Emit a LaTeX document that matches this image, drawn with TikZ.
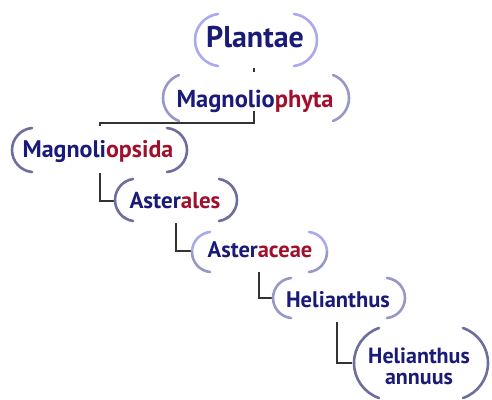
\documentclass[tikz,border=0pt]{standalone}
\usepackage{fontspec}
\setmainfont{PT Sans}
\usetikzlibrary{calc}
\definecolor{navy}{HTML}{1A1A78}
\definecolor{wine}{HTML}{A0102C}
\definecolor{connc}{HTML}{333333}
\definecolor{arcL}{HTML}{AAAAEE}
\definecolor{arcM}{HTML}{9898C8}
\definecolor{arcD}{HTML}{6E6E9C}
\newcommand\brk[7]{%
  \pgfmathsetmacro\rr{(#4*#4+#5*#5)/(2*#5)}%
  \pgfmathsetmacro\aa{atan2(#4,\rr-#5)}%
  \draw[arcline,#6] (#1-#3,#2) arc[start angle=180,end angle=180+\aa,radius=\rr];
  \draw[arcline,#7] (#1-#3,#2) arc[start angle=180,end angle=180-\aa,radius=\rr];
  \draw[arcline,#6] (#1+#3,#2) arc[start angle=0,end angle=-\aa,radius=\rr];
  \draw[arcline,#7] (#1+#3,#2) arc[start angle=0,end angle=\aa,radius=\rr];
}
\begin{document}
\begin{tikzpicture}[x=1pt,y=-1pt,
  lbl/.style={text=navy,inner sep=0pt,anchor=base},
  conn/.style={draw=connc,line width=1.1pt},
  arcline/.style={line width=2.6pt,line cap=round}]
\useasboundingbox[fill=white] (0,0) rectangle (492,399);
% connectors
\coordinate (p-out) at (254,68);
\coordinate (mo-in) at (100,126);
\coordinate (mo-out) at (100,173);
\coordinate (as-in) at (116,201);
\coordinate (as-out) at (176,223);
\coordinate (ac-in) at (191,251);
\coordinate (ac-out) at (259,272);
\coordinate (he-in) at (273,298);
\coordinate (he-out) at (337,322);
\coordinate (an-in) at (352,363);
\draw[conn] (p-out) -- (254,123) -| (mo-in);
\draw[conn] (mo-out) |- (as-in);
\draw[conn] (as-out) |- (ac-in);
\draw[conn] (ac-out) |- (he-in);
\draw[conn] (he-out) |- (an-in);
% nodes
\node[lbl,font=\fontsize{30}{33}\selectfont\bfseries] (p) at (255,47) {Plantae};
\node[lbl,fill=white,inner sep=1pt,text height=34pt,text depth=3pt,
  font=\fontsize{24.5}{28}\selectfont\bfseries] (mp) at (255,107)
  {Magnolio\textcolor{wine}{phyta}};
\node[lbl,font=\fontsize{24}{28}\selectfont\bfseries] (mo) at (98,157) {Magnoli\textcolor{wine}{opsida}};
\node[lbl,font=\fontsize{23}{27}\selectfont\bfseries] (as) at (175,208) {Aster\textcolor{wine}{ales}};
\node[lbl,font=\fontsize{22.5}{26}\selectfont\bfseries] (ac) at (260,257) {Aster\textcolor{wine}{aceae}};
\node[lbl,font=\fontsize{22.5}{26}\selectfont\bfseries] (he) at (338,307) {Helianthus};
\node[lbl,anchor=center,align=center,font=\fontsize{22}{21}\selectfont\bfseries] (an) at (419,366)
  {Helianthus\\annuus};
% brackets
\brk{256}{40}{61}{26}{23}{arcL}{arcL}
\brk{256}{98}{93}{23}{16}{arcM}{arcM}
\brk{99.5}{150}{87.5}{22}{20}{arcD}{arcD}
\brk{176}{200}{61}{21}{18}{arcD}{arcD}
\brk{259.5}{252}{67.5}{20}{18}{arcL}{arcM}
\brk{339}{298}{66}{20}{18}{arcM}{arcM}
\brk{421}{363}{67}{35}{25}{arcD}{arcD}
\end{tikzpicture}
\end{document}
